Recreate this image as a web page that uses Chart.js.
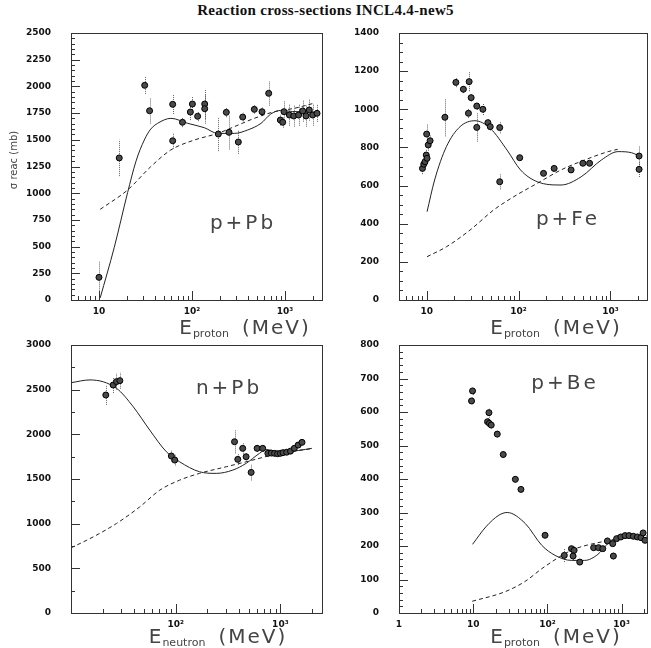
<!DOCTYPE html>
<html>
<head>
<meta charset="utf-8">
<script src="https://cdn.jsdelivr.net/npm/chart.js@4.4.0/dist/chart.umd.min.js"></script>
<style>
body { margin: 0; background: #fff; }
#wrap { position: relative; width: 651px; height: 648px; }
#wrap canvas { position: absolute; left: 0; top: 0; }
#title { position: absolute; left: 0; top: 2px; width: 651px; text-align: center;
         font: bold 15px "Liberation Serif", serif; color: #111; letter-spacing: 0.3px; }
</style>
</head>
<body>
<div id="wrap">
  <div id="title">Reaction cross-sections INCL4.4-new5</div>
  <canvas id="c1" width="651" height="648"></canvas>
  <canvas id="c2" width="651" height="648"></canvas>
  <canvas id="c3" width="651" height="648"></canvas>
  <canvas id="c4" width="651" height="648"></canvas>
</div>
<script>
// p+Pb data
var pbE     = [10, 16.5, 31, 35, 62, 62, 79, 96, 101, 115, 137, 137, 192, 234, 250, 315, 351, 468, 566, 668, 891, 945, 975, 1115, 1240, 1400, 1550, 1680, 1825, 1985, 2210];
var pbSigma = [212, 1330, 2010, 1772, 1832, 1491, 1664, 1760, 1835, 1720, 1835, 1791, 1554, 1757, 1570, 1479, 1713, 1785, 1763, 1935, 1685, 1664, 1763, 1732, 1723, 1732, 1770, 1723, 1779, 1732, 1748];
var pbErr   = [150, 170, 80, 120, 90, 75, 45, 75, 75, 45, 140, 140, 160, 45, 160, 110, 40, 40, 40, 115, 50, 50, 100, 100, 100, 100, 100, 100, 100, 100, 80];
var pbModelE = [10.3, 14.6, 20.3, 25, 30.7, 36, 42.7, 59.4, 90, 136, 189, 285, 397, 552, 700, 900, 1200, 2000];
var pbModel  = [20, 493, 1005, 1300, 1498, 1600, 1654, 1701, 1654, 1613, 1560, 1560, 1592, 1654, 1740, 1775, 1765, 1760];
var pbDashE = [10.3, 20.3, 36, 59, 106, 189, 285, 468, 767, 1260, 2000];
var pbDash  = [849, 1030, 1248, 1404, 1498, 1560, 1623, 1701, 1763, 1795, 1840];

// p+Fe data
var feE     = [9.0, 9.3, 9.6, 9.9, 10.1, 10.4, 10.9, 10.0, 15.8, 20.8, 25.1, 29, 30.5, 28.5, 35.1, 40.9, 35.1, 46.4, 49.2, 62.4, 62.4, 103, 187, 244, 373, 501, 593, 2050, 2050];
var feSigma = [690, 712, 725, 760, 743, 813, 835, 870, 958, 1141, 1105, 1145, 1061, 979, 1017, 1000, 905, 930, 909, 904, 620, 746, 664, 690, 682, 717, 717, 755, 685];
var feErr   = [30, 30, 30, 30, 30, 30, 30, 50, 100, 25, 20, 50, 20, 25, 20, 30, 75, 20, 20, 30, 40, 15, 10, 10, 10, 10, 10, 50, 40];
var feModelE = [10.1, 12.2, 16.4, 23.1, 33.6, 49.2, 75, 105, 160, 290, 480, 796, 1213, 1700, 2130];
var feModel  = [463, 629, 804, 909, 940, 900, 786, 682, 620, 603, 646, 734, 778, 772, 751];
var feDashE = [10.1, 16.4, 29.7, 53.6, 89, 160, 290, 523, 944, 1200];
var feDash  = [227, 279, 367, 472, 542, 612, 682, 734, 778, 790];

// n+Pb data
var npbE     = [21.5, 25.3, 27.2, 29.3, 91, 98, 365, 392, 437, 471, 526, 600, 678, 760, 820, 880, 940, 1000, 1060, 1150, 1250, 1360, 1480, 1610];
var npbSigma = [2440, 2552, 2590, 2601, 1757, 1712, 1917, 1720, 1843, 1749, 1574, 1843, 1843, 1787, 1790, 1787, 1783, 1787, 1795, 1800, 1812, 1843, 1880, 1910];
var npbErr   = [110, 90, 90, 90, 60, 60, 130, 60, 60, 40, 90, 40, 40, 20, 20, 20, 20, 20, 20, 20, 20, 20, 20, 20];
var npbModelE = [10, 15.2, 27.2, 39.3, 56.5, 81.5, 109, 169, 244, 352, 471, 631, 731, 1000, 1500, 2000];
var npbModel  = [2578, 2609, 2515, 2309, 2048, 1805, 1693, 1581, 1563, 1600, 1675, 1787, 1830, 1800, 1820, 1843];
var npbDashE = [10, 16.3, 27.2, 45.4, 70.5, 109, 169, 304, 546, 978, 2000];
var npbDash  = [729, 852, 1002, 1188, 1375, 1487, 1563, 1637, 1712, 1787, 1840];

// p+Be data
var beE     = [9.8, 9.5, 16.3, 15.6, 16.5, 17.5, 21.1, 25.4, 37, 44, 93, 169, 211, 229, 222, 273, 420, 489, 558, 644, 759, 775, 857, 977, 1114, 1260, 1442, 1632, 1824, 2065, 1950];
var beSigma = [663, 633, 598, 571, 566, 561, 534, 473, 399, 369, 232, 172, 192, 187, 170, 152, 195, 195, 192, 215, 207, 170, 222, 227, 231, 231, 229, 227, 225, 217, 239];
var beErr   = [12, 10, 15, 10, 10, 10, 10, 10, 10, 8, 8, 20, 12, 12, 12, 8, 8, 8, 8, 10, 10, 10, 10, 8, 8, 8, 8, 8, 8, 8, 8];
var beModelE = [9.8, 14.8, 22.2, 28.7, 50.4, 84, 127, 211, 318, 479, 651, 977, 2200];
var beModel  = [205, 257, 292, 300, 267, 202, 172, 157, 157, 175, 207, 227, 219];
var beDashE = [9.7, 26.5, 49, 90, 211, 530, 1475, 2200];
var beDash  = [35, 63, 93, 137, 187, 212, 227, 230];

// decade tick labels per panel
var xLabels1 = [10, 100, 1000];
var xLabels2 = [10, 100, 1000];
var xLabels3 = [100, 1000];
var xLabels4 = [1, 10, 100, 1000];
var decadeText = {1: '1', 10: '10', 100: '10\u00b2', 1000: '10\u00b3'};

function pts(xs, ys) {
  return xs.map(function (x, i) { return {x: x, y: ys[i]}; });
}

var errorBars = {
  id: 'errorBars',
  beforeDatasetsDraw: function (chart) {
    var ctx = chart.ctx, x = chart.scales.x, y = chart.scales.y;
    ctx.save();
    ctx.strokeStyle = '#666';
    ctx.lineWidth = 1;
    ctx.setLineDash([1, 1]);
    chart.data.datasets.forEach(function (ds) {
      if (!ds.err) return;
      ds.data.forEach(function (p, i) {
        var px = Math.round(x.getPixelForValue(p.x)) + 0.5;
        ctx.beginPath();
        ctx.moveTo(px, y.getPixelForValue(p.y - ds.err[i]));
        ctx.lineTo(px, y.getPixelForValue(p.y + ds.err[i]));
        ctx.stroke();
      });
    });
    ctx.restore();
  }
};

// frame with inward ticks, panel label and axis titles
var frame = {
  id: 'frame',
  afterDraw: function (chart, args, o) {
    var ctx = chart.ctx, a = chart.chartArea, x = chart.scales.x, y = chart.scales.y;
    ctx.save();
    ctx.strokeStyle = '#333';
    ctx.lineWidth = 1;
    ctx.strokeRect(Math.round(a.left) + 0.5, Math.round(a.top) + 0.5,
                   Math.round(a.right - a.left), Math.round(a.bottom - a.top));
    ctx.beginPath();
    var d0 = Math.floor(Math.log10(x.min)), d1 = Math.ceil(Math.log10(x.max));
    for (var d = d0; d <= d1; d++) {
      for (var m = 1; m <= 9; m++) {
        var v = m * Math.pow(10, d);
        if (v < x.min || v > x.max) continue;
        var px = Math.round(x.getPixelForValue(v)) + 0.5;
        ctx.moveTo(px, a.bottom);
        ctx.lineTo(px, a.bottom - (m === 1 ? 9 : 4));
      }
    }
    for (var t = y.min; t <= y.max; t += o.yMinor) {
      var py = Math.round(y.getPixelForValue(t)) + 0.5;
      ctx.moveTo(a.left, py);
      ctx.lineTo(a.left + (t % o.yMajor === 0 ? 9 : 4), py);
    }
    ctx.stroke();

    ctx.fillStyle = '#444';
    ctx.font = '20px "DejaVu Sans"';
    ctx.letterSpacing = '3px';
    ctx.textAlign = 'center';
    ctx.fillText(o.label[0], o.label[1], o.label[2]);

    // E_sub (MeV)
    ctx.textAlign = 'left';
    ctx.letterSpacing = '0px';
    ctx.font = '20px "DejaVu Sans"';
    var wE = ctx.measureText('E').width;
    ctx.font = '11px "DejaVu Sans"';
    var wS = ctx.measureText(o.sub).width;
    ctx.font = '20px "DejaVu Sans"';
    ctx.letterSpacing = '2px';
    var wM = ctx.measureText('(MeV)').width;
    var x0 = o.titlePos[0] - (wE + wS + 14 + wM) / 2, yb = o.titlePos[1];
    ctx.letterSpacing = '0px';
    ctx.fillText('E', x0, yb);
    ctx.font = '11px "DejaVu Sans"';
    ctx.fillText(o.sub, x0 + wE + 1, yb + 3);
    ctx.font = '20px "DejaVu Sans"';
    ctx.letterSpacing = '2px';
    ctx.fillText('(MeV)', x0 + wE + wS + 14, yb);

    if (o.yTitle) {
      ctx.letterSpacing = '0px';
      ctx.font = '10px "DejaVu Sans"';
      ctx.translate(17, 160);
      ctx.rotate(-Math.PI / 2);
      ctx.textAlign = 'center';
      ctx.fillText(o.yTitle, 0, 0);
    }
    ctx.restore();
  }
};

function makeChart(id, p) {
  var yW = 60, xH = 20;
  return new Chart(document.getElementById(id), {
    type: 'scatter',
    data: {
      datasets: [
        {data: pts(p.e, p.s), err: p.err, pointRadius: 3, pointHoverRadius: 3,
         pointBackgroundColor: '#4a4a4a', pointBorderColor: '#000', pointBorderWidth: 1},
        {type: 'line', data: pts(p.mE, p.m), borderColor: '#222', borderWidth: 1,
         pointRadius: 0, cubicInterpolationMode: 'monotone', fill: false},
        {type: 'line', data: pts(p.dE, p.d), borderColor: '#222', borderWidth: 1,
         borderDash: [4, 3], pointRadius: 0, cubicInterpolationMode: 'monotone', fill: false}
      ]
    },
    options: {
      responsive: false,
      animation: false,
      events: [],
      layout: {padding: {left: p.area[0] - yW, right: 651 - p.area[1], top: p.area[2], bottom: 648 - p.area[3] - xH}},
      plugins: {
        legend: {display: false},
        tooltip: {enabled: false},
        frame: {label: p.label, sub: p.sub, titlePos: p.titlePos, yMajor: p.yMajor, yMinor: p.yMinor, yTitle: p.yTitle}
      },
      scales: {
        x: {
          type: 'logarithmic', min: p.xMin, max: p.xMax,
          grid: {display: false, drawTicks: false}, border: {display: false},
          afterFit: function (s) { s.height = xH; },
          afterBuildTicks: function (s) { s.ticks = p.xLabels.map(function (v) { return {value: v}; }); },
          ticks: {autoSkip: false, maxRotation: 0, padding: 6, color: '#111',
                  font: {family: 'DejaVu Sans', size: 9, weight: 'bold'},
                  callback: function (v) { return decadeText[v] || ''; }}
        },
        y: {
          min: 0, max: p.yMax,
          grid: {display: false, drawTicks: false}, border: {display: false},
          afterFit: function (s) { s.width = yW; },
          ticks: {stepSize: p.yMajor, padding: 20, color: '#111',
                  font: {family: 'DejaVu Sans', size: 9, weight: 'bold'},
                  callback: function (v) { return String(v); }}
        }
      }
    },
    plugins: [errorBars, frame]
  });
}

makeChart('c1', {e: pbE, s: pbSigma, err: pbErr, mE: pbModelE, m: pbModel, dE: pbDashE, d: pbDash,
  area: [71, 322, 33, 300], xMin: 5, xMax: 2500, xLabels: xLabels1, yMax: 2500, yMajor: 250, yMinor: 50,
  label: ['p+Pb', 243, 229], sub: 'proton', titlePos: [245, 334], yTitle: '\u03c3 reac (mb)'});
makeChart('c2', {e: feE, s: feSigma, err: feErr, mE: feModelE, m: feModel, dE: feDashE, d: feDash,
  area: [399, 650, 33, 300], xMin: 5, xMax: 2500, xLabels: xLabels2, yMax: 1400, yMajor: 200, yMinor: 50,
  label: ['p+Fe', 568, 225], sub: 'proton', titlePos: [556, 334]});
makeChart('c3', {e: npbE, s: npbSigma, err: npbErr, mE: npbModelE, m: npbModel, dE: npbDashE, d: npbDash,
  area: [71, 322, 345, 613], xMin: 10, xMax: 2500, xLabels: xLabels3, yMax: 3000, yMajor: 500, yMinor: 250,
  label: ['n+Pb', 229, 394], sub: 'neutron', titlePos: [218, 643]});
makeChart('c4', {e: beE, s: beSigma, err: beErr, mE: beModelE, m: beModel, dE: beDashE, d: beDash,
  area: [399, 650, 345, 613], xMin: 1, xMax: 2200, xLabels: xLabels4, yMax: 800, yMajor: 100, yMinor: 20,
  label: ['p+Be', 565, 389], sub: 'proton', titlePos: [556, 643]});
</script>
</body>
</html>
